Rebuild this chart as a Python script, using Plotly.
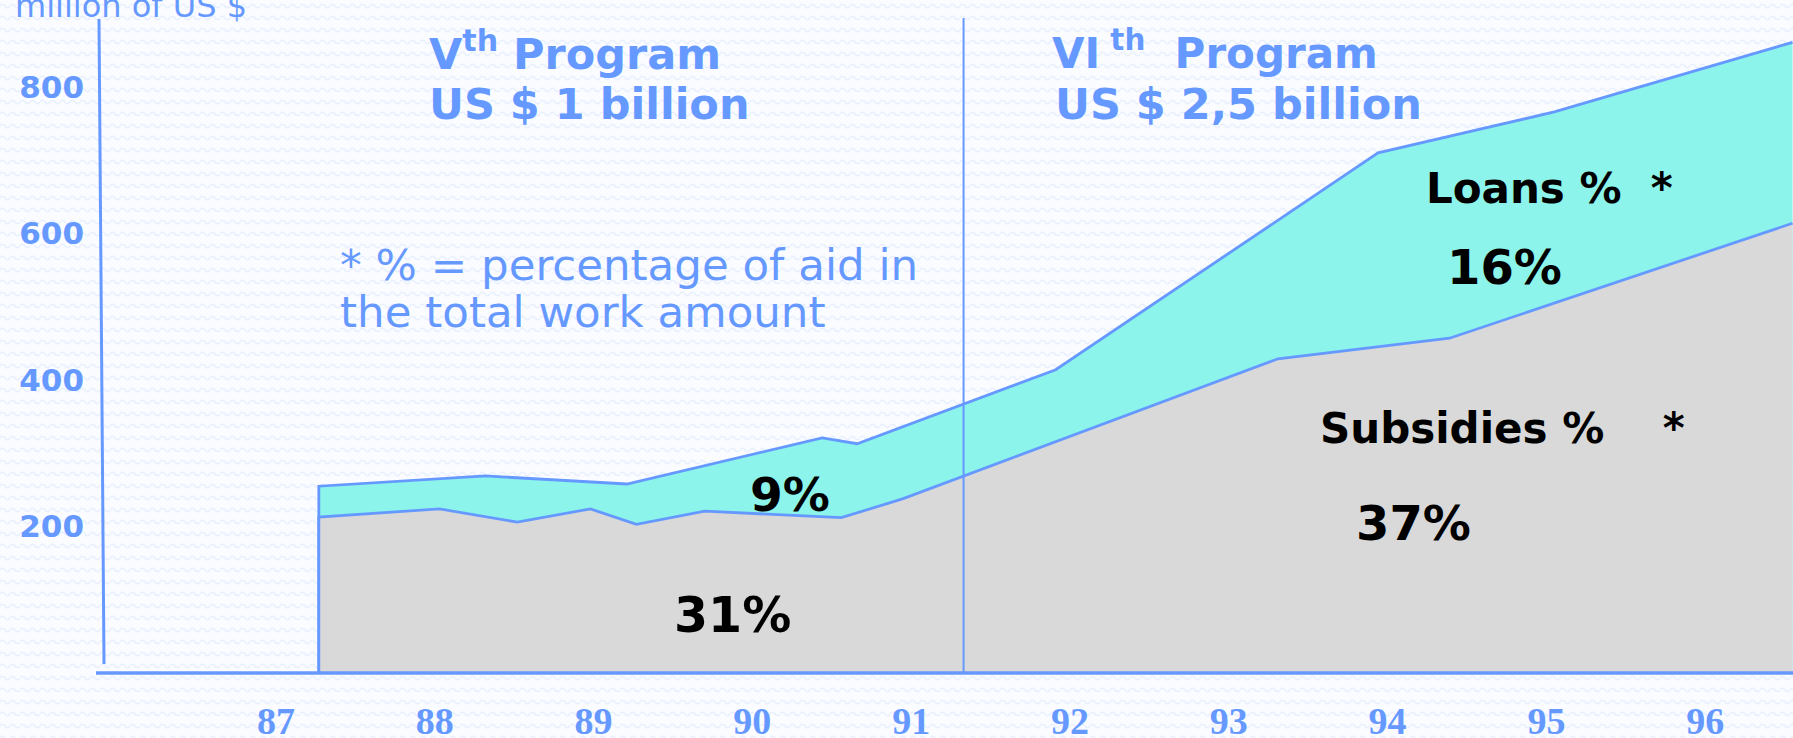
import base64
import plotly.graph_objects as go

# ---------------- data (years as fractional 19xx, values in million US $) -------------
total_years = [87.27, 87.27, 88.32, 89.21, 90.44, 90.66, 91.91, 93.94, 95.05, 96.55]
total_values = [0, 255, 269, 258, 321, 313, 414, 710, 766, 861]

subs_years = [87.27, 87.27, 88.03, 88.52, 88.98, 89.27, 89.70, 90.56, 90.95, 93.31, 94.39, 96.55]
subs_values = [0, 213, 224, 206, 224, 203, 221, 212, 238, 429, 457, 614]

program_split_year = 91.33
x_ticks = [87, 88, 89, 90, 91, 92, 93, 94, 95, 96]
x_tick_labels = ["87", "88", "89", "90", "91", "92", "93", "94", "95", "96"]
y_ticks = [200, 400, 600, 800]
y_tick_labels = ["200", "400", "600", "800"]

# ---------------- style ---------------------------------------------------------------
BLUE = "#6699FF"
CYAN = "#8CF4EA"
GRAY = "#D9D9D9"
BG = "#F7FAFF"
W_FIG, H_FIG = 1793, 738
L, T, R, B = 90, 0, 0, 65
PW, PH = W_FIG - L - R, H_FIG - T - B


def px(x):
    return (x - L) / PW


def py(y):
    return (T + PH - y) / PH


# faint wavy background texture of the original slide
svg = ("<svg xmlns='http://www.w3.org/2000/svg' width='1793' height='738'>"
       "<defs><pattern id='p' width='10' height='12' patternUnits='userSpaceOnUse'>"
       "<path d='M0,6 Q2.5,2.5 5,6 T10,6' fill='none' stroke='#E8F0FF' stroke-width='1.5'/>"
       "</pattern></defs>"
       "<rect width='100%' height='100%' fill='#FBFCFF'/>"
       "<rect width='100%' height='100%' fill='url(#p)'/></svg>")
bg_uri = "data:image/svg+xml;base64," + base64.b64encode(svg.encode()).decode()

fig = go.Figure()
fig.add_trace(go.Scatter(x=total_years, y=total_values, mode="lines", fill="tozeroy",
                         fillcolor=CYAN, line=dict(color=BLUE, width=2.8),
                         hoverinfo="skip", showlegend=False))
fig.add_trace(go.Scatter(x=subs_years, y=subs_values, mode="lines", fill="tozeroy",
                         fillcolor=GRAY, line=dict(color=BLUE, width=2.8),
                         hoverinfo="skip", showlegend=False))

# divider between programmes
fig.add_shape(type="line", xref="x", yref="paper", x0=program_split_year, x1=program_split_year,
              y0=0, y1=py(18), line=dict(color=BLUE, width=2), layer="above")
# y axis line (slightly slanted as in the original)
fig.add_shape(type="line", xref="paper", yref="paper", x0=px(104), x1=px(99),
              y0=py(664), y1=py(19), line=dict(color=BLUE, width=3))
# x axis line
fig.add_shape(type="line", xref="paper", yref="paper", x0=px(96), x1=1,
              y0=0, y1=0, line=dict(color=BLUE, width=3.5), layer="above")

ann = []


def add(text, x, y, size, color=BLUE, bold=False, xanchor="left", family="DejaVu Sans"):
    ann.append(dict(text=text, xref="paper", yref="paper", x=px(x), y=py(y),
                    xanchor=xanchor, yanchor="middle", showarrow=False,
                    font=dict(family=family, size=size, color=color,
                              weight="bold" if bold else "normal")))


add("million of US $", 13, 6, 32)
add("V<sup>th</sup> Program", 427, 51, 43, bold=True)
add("US $ 1 billion", 427, 104, 43, bold=True)
add("VI<sup> th</sup>\u00a0 Program", 1050, 51, 42, bold=True)
add("US $ 2,5 billion", 1053, 104, 43, bold=True)
add("* % = percentage of aid in", 338, 265, 43.5)
add("the total work amount", 338, 312, 43.5)
add("9%", 790, 494, 47, color="black", bold=True, xanchor="center")
add("31%", 732, 615, 49, color="black", bold=True, xanchor="center")
add("Loans %\u00a0\u00a0*", 1549, 188, 42, color="black", bold=True, xanchor="center")
add("16%", 1504, 267, 48, color="black", bold=True, xanchor="center")
add("Subsidies %\u00a0\u00a0\u00a0\u00a0*", 1502, 428, 42, color="black", bold=True, xanchor="center")
add("37%", 1413, 523, 48, color="black", bold=True, xanchor="center")

fig.update_layout(
    width=W_FIG, height=H_FIG,
    margin=dict(l=L, r=R, t=T, b=B, pad=0),
    paper_bgcolor=BG, plot_bgcolor="rgba(0,0,0,0)",
    images=[dict(source=bg_uri, xref="paper", yref="paper", x=px(0), y=py(0),
                 sizex=W_FIG / PW, sizey=H_FIG / PH, xanchor="left", yanchor="top",
                 sizing="stretch", layer="below")],
    annotations=ann,
    xaxis=dict(range=[85.829, 96.553], showgrid=False, zeroline=False, showline=False,
               tickvals=x_ticks, ticktext=x_tick_labels, ticks="",
               tickfont=dict(family="Liberation Serif", size=38, color=BLUE, weight="bold"),
               ticklabelstandoff=22, automargin=False, fixedrange=True),
    yaxis=dict(range=[0, PH / 0.7325], showgrid=False, zeroline=False, showline=False,
               tickvals=y_ticks, ticktext=y_tick_labels, ticks="",
               tickfont=dict(family="DejaVu Sans", size=31, color=BLUE, weight="bold"),
               ticklabelstandoff=5, automargin=False, fixedrange=True),
)

fig.write_html("out.html", config={"displayModeBar": False},
               post_script="document.body.style.margin='0';document.body.style.overflow='hidden';"
                           "document.body.style.background='" + BG + "';")
